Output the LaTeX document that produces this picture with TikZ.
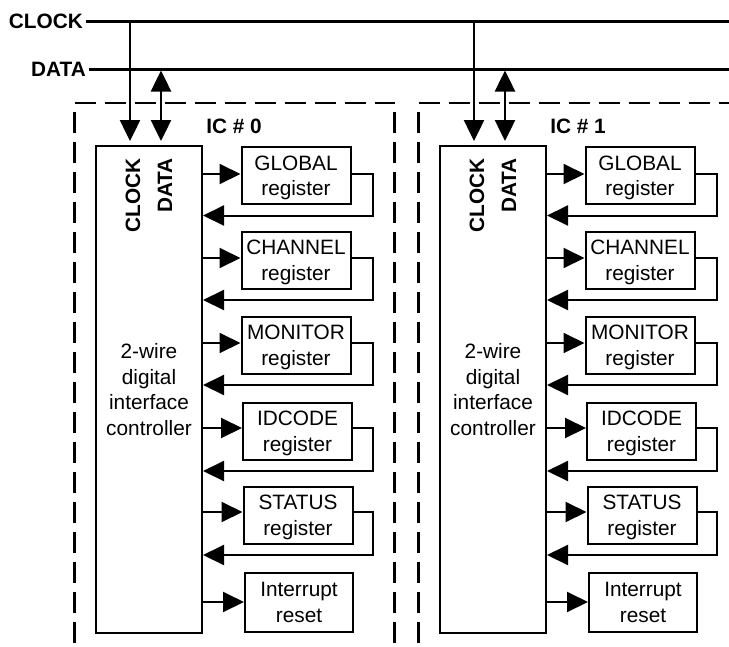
\documentclass[tikz,border=0pt]{standalone}
\usepackage{fontspec}
\setmainfont{Liberation Sans}
\usetikzlibrary{arrows.meta,calc}
\newcommand\diagfont{\fontsize{20.8}{25.5}\selectfont}
\begin{document}
\begin{tikzpicture}[x=1pt,y=-1pt,
  >={Triangle[length=21pt,width=20pt]},
  bus/.style={line width=3pt},
  drop/.style={line width=2.5pt},
  conn/.style={line width=2pt,->},
  buslabel/.style={font=\diagfont\bfseries,inner sep=2.5pt},
  sidelabel/.style={rotate=90,anchor=east,inner sep=0pt,font=\diagfont\bfseries},
  iclabel/.style={font=\diagfont\bfseries,inner sep=0pt},
  ctrlbox/.style={draw,line width=2pt,minimum width=106pt,minimum height=487pt,
    align=center,inner sep=0pt,font=\diagfont},
  regbox/.style={draw,line width=2pt,minimum width=109pt,minimum height=57pt,
    align=center,inner sep=0pt,text depth=0pt,font=\diagfont},
  icframe/.style={line width=2.5pt,dash pattern=on 21pt off 9pt},
  icside/.style={icframe,dash phase=21pt}]
\useasboundingbox (0,0) rectangle (729,646);
\clip (0,0) rectangle (729,646);

% two-wire bus
\node[buslabel,anchor=east] (clk) at (85.5,21) {CLOCK};
\node[buslabel,anchor=east] (dat) at (88.5,69) {DATA};
\coordinate (clkend) at (740,21);
\coordinate (datend) at (740,69);
\draw[bus] (clk.east) -- (clkend);
\draw[bus] (dat.east) -- (datend);

% dashed chip outlines
\draw[icframe] (74.5,103) -- (394.5,103);
\draw[icside] (74.5,103) -- (74.5,660);
\draw[icside] (394.5,103) -- (394.5,660);
\draw[icframe] (418.5,103) -- (760,103);
\draw[icside] (418.5,103) -- (418.5,660);

\foreach \i/\dx in {0/0,1/344} {
  % interface controller
  \node[ctrlbox] (ctrl\i) at (\dx+149,389.5)
    {2-wire\\digital\\interface\\controller};
  \node[sidelabel] (ckin\i) at (\dx+133,158) {CLOCK};
  \node[sidelabel] (dtin\i) at (\dx+165,158) {DATA};
  \node[iclabel] (ic\i) at (\dx+234,126) {IC \# \i};

  % bus taps
  \coordinate (ck\i) at (\dx+130,21);
  \coordinate (dt\i) at (\dx+161,70.5);
  \draw[drop,->,shorten >=4pt] (ck\i) -- (ck\i |- ctrl\i.north);
  \draw[drop,<->,shorten >=4pt] (dt\i) -- (dt\i |- ctrl\i.north);

  % registers with write and read-back paths
  \foreach \j/\txt/\cx/\cy/\up in {
      g/{GLOBAL\\register}/296/175.5/1.5,
      c/{CHANNEL\\register}/296/260/2,
      m/{MONITOR\\register}/296/345/2,
      d/{IDCODE\\register}/297.5/431/3,
      s/{STATUS\\register}/298/515/3} {
    \node[regbox] (r\i\j) at (\dx+\cx,\cy) {\txt};
    \draw[conn] ($(ctrl\i.east |- r\i\j.west)+(0,-\up)$) -- ($(r\i\j.west)+(0,-\up)$);
    \draw[conn] ($(r\i\j.east)+(0,-\up)$) -| (\dx+372.5,\cy+20)
      |- ($(ctrl\i.east |- r\i\j.west)+(0,40)$);
  }
  \node[regbox,minimum width=108pt,minimum height=59pt] (r\i i) at (\dx+299,602.5)
    {Interrupt\\reset};
  \draw[conn] ($(ctrl\i.east |- r\i i.west)+(0,-0.5)$) -- ($(r\i i.west)+(0,-0.5)$);
}
\end{tikzpicture}
\end{document}
